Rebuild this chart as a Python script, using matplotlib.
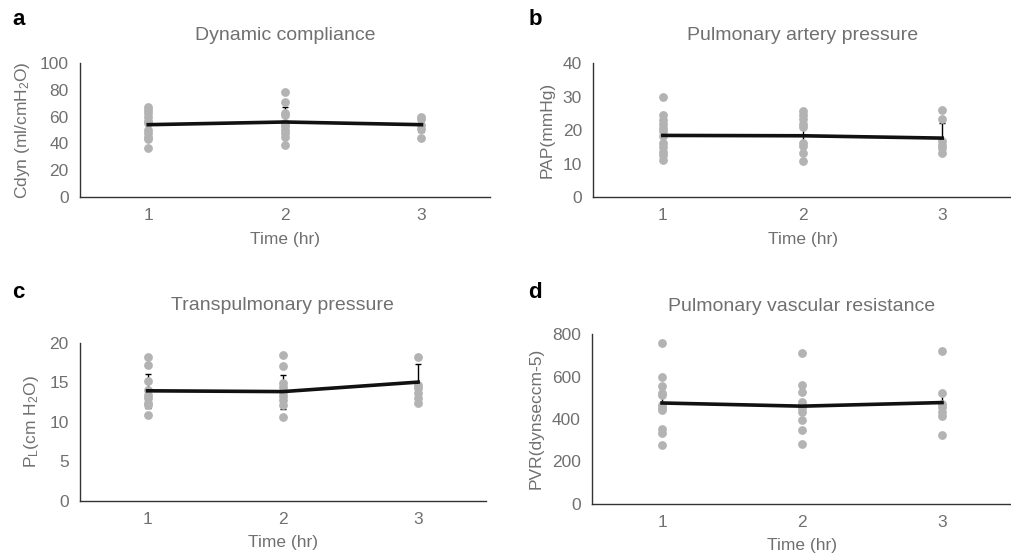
import numpy as np
import matplotlib
matplotlib.use('Agg')
import matplotlib.pyplot as plt

plt.rcParams['font.family'] = ['Liberation Sans', 'DejaVu Sans']
plt.rcParams['mathtext.fontset'] = 'custom'
plt.rcParams['mathtext.rm'] = 'Liberation Sans'
plt.rcParams['mathtext.it'] = 'Liberation Sans'

hours = [1, 2, 3]

# a: dynamic compliance
cdyn_mean = [54, 56, 54]
cdyn_err = [9, 11, 5.5]
cdyn_pts = [
    [67, 65, 63, 60, 57, 55, 50, 48, 45, 43, 37],
    [78, 71, 63, 61, 55, 53, 50, 48, 45, 39],
    [60, 58, 54, 51, 44],
]

# b: pulmonary artery pressure
pap_mean = [18.4, 18.3, 17.6]
pap_err = [4.8, 2.6, 4.5]
pap_pts = [
    [30, 24.6, 23, 21.9, 20.6, 19.6, 18.1, 16.1, 15.1, 13.6, 12.6, 11.1],
    [25.6, 24.6, 23.3, 21.9, 20.9, 16.1, 15.3, 13.1, 10.9],
    [26.1, 23.3, 16.6, 15.6, 14.6, 13.1],
]

# c: transpulmonary pressure
pl_mean = [13.9, 13.8, 15.0]
pl_err = [2.15, 2.15, 2.3]
pl_pts = [
    [18.2, 17.2, 15.1, 14.0, 13.4, 13.0, 12.4, 12.1, 10.8],
    [18.4, 17.0, 14.9, 14.4, 13.8, 13.2, 12.7, 12.1, 10.6],
    [18.2, 14.6, 14.2, 13.6, 13.0, 12.4],
]

# d: pulmonary vascular resistance
pvr_mean = [475, 460, 477]
pvr_err = [37, 20, 43]
pvr_pts = [
    [759, 598, 554, 520, 512, 465, 449, 441, 350, 334, 276],
    [712, 559, 528, 480, 465, 449, 433, 394, 346, 283],
    [721, 520, 472, 454, 433, 413, 323],
]

panels = [
    ('a', 'Dynamic compliance', r'Cdyn (ml/cmH$_2$O)', cdyn_mean, cdyn_err, cdyn_pts, 100, 20,
     [0.079, 0.646, 0.405, 0.241], 16.5),
    ('b', 'Pulmonary artery pressure', 'PAP(mmHg)', pap_mean, pap_err, pap_pts, 40, 10,
     [0.586, 0.646, 0.414, 0.241], 16.5),
    ('c', 'Transpulmonary pressure', r'P$_\mathregular{L}$(cm H$_2$O)', pl_mean, pl_err, pl_pts, 20, 5,
     [0.079, 0.101, 0.401, 0.284], 23.5),
    ('d', 'Pulmonary vascular resistance', 'PVR(dynseccm-5)', pvr_mean, pvr_err, pvr_pts, 800, 200,
     [0.585, 0.096, 0.415, 0.304], 16.5),
]

txt = '#707070'
dot = '#b3b3b3'

fig = plt.figure(figsize=(10.12, 5.57), dpi=100)

for letter, title, ylab, mean, err, pts, ymax, step, rect, pad in panels:
    ax = fig.add_axes(rect)
    ax.errorbar(hours, mean, yerr=err, fmt='none', ecolor='black', elinewidth=1,
                capsize=2.5, capthick=1, zorder=1)
    for h, vals in zip(hours, pts):
        ax.scatter([h] * len(vals), vals, s=40, color=dot, linewidths=0, zorder=2)
    ax.plot(hours, mean, color='#111111', linewidth=2.6, zorder=3)
    ax.set_xlim(0.5, 3.5)
    ax.set_ylim(0, ymax)
    ax.set_xticks(hours)
    ax.set_yticks(np.arange(0, ymax + 1, step))
    ax.tick_params(length=0, labelsize=12.5, colors=txt, pad=8)
    for s in ['top', 'right']:
        ax.spines[s].set_visible(False)
    for s in ['left', 'bottom']:
        ax.spines[s].set_color('#333333')
        ax.spines[s].set_linewidth(1)
    ax.set_xlabel('Time (hr)', fontsize=12.5, color=txt, labelpad=6)
    ax.set_ylabel(ylab, fontsize=12.5, color=txt, labelpad=6)
    ax.set_title(title, fontsize=14, color=txt, pad=pad)
    x0 = 0.012 if rect[0] < 0.5 else 0.522
    y0 = 0.965 if rect[1] > 0.5 else 0.475
    fig.text(x0, y0, letter, fontsize=16, fontweight='bold', color='black', va='center')

fig.savefig('out.png', dpi=100)
